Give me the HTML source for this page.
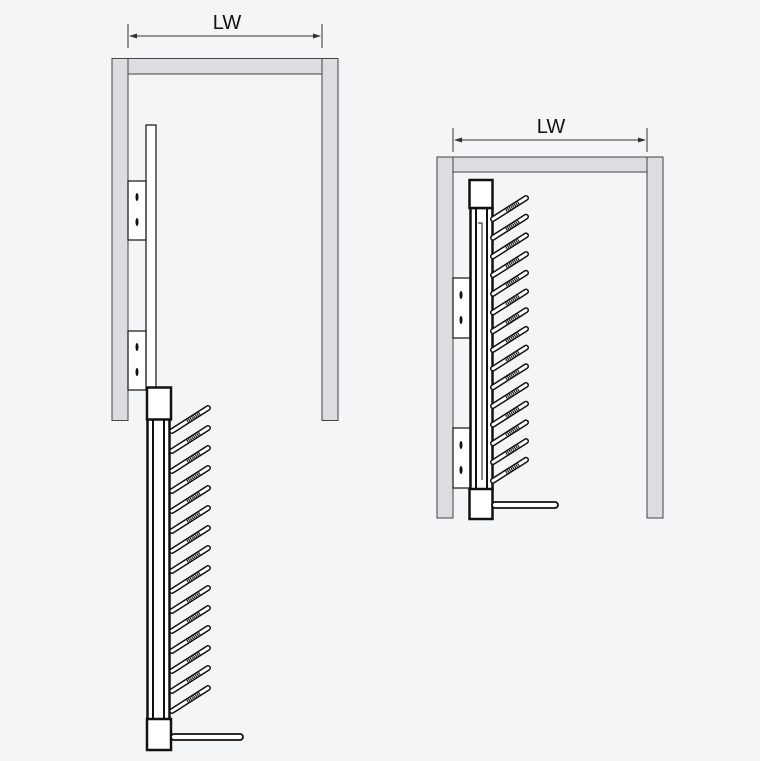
<!DOCTYPE html>
<html><head><style>body{margin:0;background:#f4f5f7}svg{display:block}</style></head><body>
<svg width="760" height="761" viewBox="0 0 760 761" xmlns="http://www.w3.org/2000/svg">
<defs>
<g id="rod">
<line x1="0" y1="0" x2="36" y2="-23" stroke="#111" stroke-width="6" stroke-linecap="round"/>
<line x1="0" y1="0" x2="36" y2="-23" stroke="#fff" stroke-width="3" stroke-linecap="round"/>
<line x1="15" y1="-9.6" x2="28" y2="-17.9" stroke="#222" stroke-width="3" stroke-dasharray="1.2 0.8"/>
</g>
<g id="rod2">
<line x1="0" y1="0" x2="33" y2="-21" stroke="#111" stroke-width="6" stroke-linecap="round"/>
<line x1="0" y1="0" x2="33" y2="-21" stroke="#fff" stroke-width="3" stroke-linecap="round"/>
<line x1="13" y1="-8.3" x2="26" y2="-16.5" stroke="#222" stroke-width="3" stroke-dasharray="1.2 0.8"/>
</g>
</defs>
<g font-family="Liberation Sans, sans-serif" font-size="20" fill="#111" text-anchor="middle">
<text x="227" y="29">LW</text>
<text x="551" y="133">LW</text>
</g>
<g stroke="#333" stroke-width="1">
<line x1="128" y1="24" x2="128" y2="48"/><line x1="322" y1="24" x2="322" y2="48"/>
<line x1="130" y1="36" x2="320" y2="36"/>
<line x1="453" y1="128" x2="453" y2="152"/><line x1="647" y1="128" x2="647" y2="152"/>
<line x1="455" y1="140" x2="645" y2="140"/>
</g>
<g fill="#333"><path d="M129 36l8-2.5v5z"/><path d="M321 36l-8-2.5v5z"/><path d="M454 140l8-2.5v5z"/><path d="M646 140l-8-2.5v5z"/></g>
<g fill="#dcdde0" stroke="#444" stroke-width="1">
<rect x="112" y="58.5" width="16" height="362"/><rect x="322" y="58.5" width="16" height="362"/><rect x="128" y="58.5" width="194" height="15.5"/>
<rect x="437" y="157" width="16" height="361"/><rect x="647" y="157" width="16" height="361"/><rect x="453" y="157" width="194" height="15"/>
</g>
<g fill="#fff" stroke="#111" stroke-width="1.2">
<rect x="146" y="125" width="10" height="265"/>
<rect x="128" y="181" width="18" height="59"/><rect x="128" y="331" width="18" height="59"/>
<rect x="453" y="278" width="17" height="60"/><rect x="453" y="428" width="17" height="60"/>
</g>
<g fill="#111">
<ellipse cx="137" cy="197" rx="1.5" ry="4"/><ellipse cx="137" cy="222" rx="1.5" ry="4"/>
<ellipse cx="137" cy="347" rx="1.5" ry="4"/><ellipse cx="137" cy="372" rx="1.5" ry="4"/>
<ellipse cx="461" cy="295" rx="1.5" ry="4"/><ellipse cx="461" cy="320" rx="1.5" ry="4"/>
<ellipse cx="461" cy="445" rx="1.5" ry="4"/><ellipse cx="461" cy="470" rx="1.5" ry="4"/>
</g>
<g fill="#fff" stroke="#111">
<rect x="147.5" y="419" width="22" height="301" stroke-width="2.5"/>
<line x1="153" y1="420" x2="153" y2="720" stroke-width="2"/>
<line x1="164" y1="420" x2="164" y2="720" stroke-width="2"/>
<rect x="147" y="387.5" width="24" height="32" stroke-width="2.5"/>
<rect x="147" y="719" width="24" height="31" stroke-width="2.5"/>
<rect x="171" y="734" width="72" height="6" rx="3" stroke-width="1.8"/>
</g>
<g>
<use href="#rod" x="172" y="431"/><use href="#rod" x="172" y="451"/><use href="#rod" x="172" y="471"/>
<use href="#rod" x="172" y="491"/><use href="#rod" x="172" y="511"/><use href="#rod" x="172" y="531"/>
<use href="#rod" x="172" y="551"/><use href="#rod" x="172" y="571"/><use href="#rod" x="172" y="591"/>
<use href="#rod" x="172" y="611"/><use href="#rod" x="172" y="631"/><use href="#rod" x="172" y="651"/>
<use href="#rod" x="172" y="671"/><use href="#rod" x="172" y="691"/><use href="#rod" x="172" y="711"/>
</g>
<g fill="#fff" stroke="#111">
<rect x="470.5" y="208" width="22" height="282" stroke-width="2.5"/>
<line x1="476" y1="209" x2="476" y2="489" stroke-width="2"/>
<line x1="487" y1="209" x2="487" y2="489" stroke-width="2"/>
<polyline points="478,223 482,223 482,480" fill="none" stroke-width="1"/>
<rect x="469.5" y="180" width="23" height="28" stroke-width="2.5"/>
<rect x="469.5" y="489" width="23" height="30" stroke-width="2.5"/>
<rect x="492" y="502" width="66" height="6" rx="3" stroke-width="1.8"/>
</g>
<g>
<use href="#rod2" x="493" y="219"/><use href="#rod2" x="493" y="237.7"/><use href="#rod2" x="493" y="256.4"/>
<use href="#rod2" x="493" y="275.1"/><use href="#rod2" x="493" y="293.8"/><use href="#rod2" x="493" y="312.5"/>
<use href="#rod2" x="493" y="331.2"/><use href="#rod2" x="493" y="349.9"/><use href="#rod2" x="493" y="368.6"/>
<use href="#rod2" x="493" y="387.3"/><use href="#rod2" x="493" y="406"/><use href="#rod2" x="493" y="424.7"/>
<use href="#rod2" x="493" y="443.4"/><use href="#rod2" x="493" y="462.1"/><use href="#rod2" x="493" y="480.8"/>
</g>
</svg>
</body></html>
